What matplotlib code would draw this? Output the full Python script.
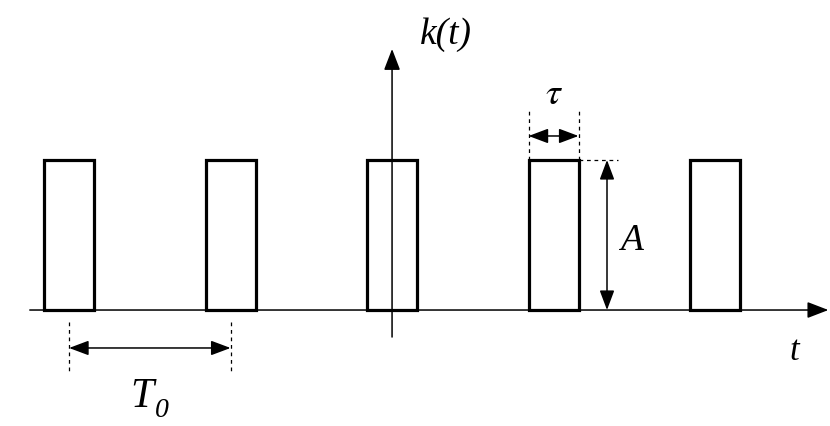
import matplotlib.pyplot as plt
from matplotlib.patches import Rectangle

# pulse train k(t): period T0, width tau, height A
pulse_centers = [-2, -1, 0, 1, 2]
period = 1.003
tau = 0.31
amplitude = 1.0
labels = {'y': 'k(t)', 'x': 't', 'period': 'T', 'period_sub': '0', 'width': r'$\tau$', 'height': 'A'}

plt.rcParams['font.family'] = ['Liberation Serif', 'DejaVu Serif']
plt.rcParams['mathtext.fontset'] = 'stix'

fig = plt.figure(figsize=(8.3, 4.27), dpi=100)
ax = fig.add_axes([0, 0, 1, 1])
ax.set_xlim(-2.435, 2.72)
ax.set_ylim(-0.773, 2.073)
ax.axis('off')

# axes with arrows
axis_arrow = dict(arrowstyle='-|>,head_length=1.3,head_width=0.5', color='black', lw=1.1,
                  shrinkA=0, shrinkB=0)
ax.annotate('', xy=(2.71, 0), xytext=(-2.25, 0), arrowprops=axis_arrow)
ax.annotate('', xy=(0, 1.74), xytext=(0, -0.18), arrowprops=axis_arrow)

# pulses
for c in pulse_centers:
    x = c * period
    ax.add_patch(Rectangle((x - tau / 2, 0), tau, amplitude, fill=False, ec='black', lw=2.3))

dash = dict(color='black', lw=0.9, ls=(0, (3, 3)))
arr2 = dict(arrowstyle='<|-|>,head_length=1.2,head_width=0.45', color='black', lw=1.1,
            shrinkA=0, shrinkB=0)

# period T0
c0 = pulse_centers[0] * period
c1 = c0 + period
for c in (c0, c1):
    ax.plot([c, c], [-0.08, -0.41], **dash)
ax.annotate('', xy=(c1, -0.253), xytext=(c0, -0.253), arrowprops=arr2)
ax.text(-1.555, -0.57, labels['period'], fontsize=30, style='italic', ha='center', va='center')
ax.text(-1.43, -0.66, labels['period_sub'], fontsize=20, style='italic', ha='center', va='center')

# width tau
p = pulse_centers[3] * period
for e in (p - tau / 2, p + tau / 2):
    ax.plot([e, e], [amplitude, 1.33], **dash)
ax.annotate('', xy=(p + tau / 2, 1.16), xytext=(p - tau / 2, 1.16), arrowprops=arr2)
ax.text(p, 1.44, labels['width'], fontsize=27, ha='center', va='center')

# height A
ax.plot([p + tau / 2, 1.405], [amplitude, amplitude], **dash)
ax.annotate('', xy=(1.335, amplitude), xytext=(1.335, 0), arrowprops=arr2)
ax.text(1.485, 0.47, labels['height'], fontsize=27, style='italic', ha='center', va='center')

# axis labels
ax.text(0.335, 1.84, labels['y'], fontsize=27, style='italic', ha='center', va='center')
ax.text(2.50, -0.27, labels['x'], fontsize=25, style='italic', ha='center', va='center')

fig.savefig('out.png', dpi=100)
